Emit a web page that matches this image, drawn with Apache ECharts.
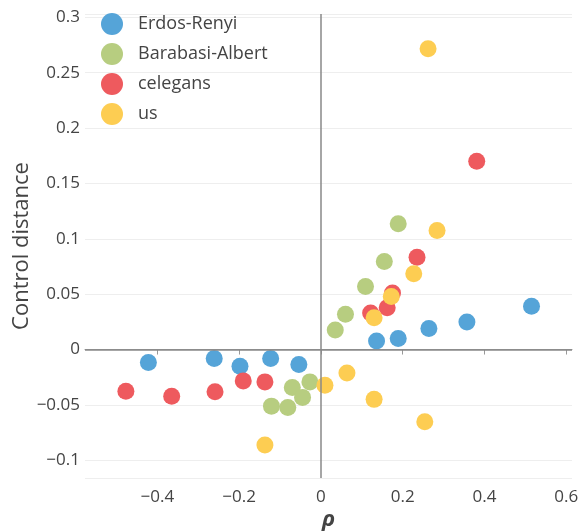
<!DOCTYPE html>
<html>
<head>
<meta charset="utf-8">
<script src="https://cdn.jsdelivr.net/npm/echarts@6/dist/echarts.min.js"></script>
<style>
  html, body { margin: 0; padding: 0; background: #fff; }
  #chart { width: 582px; height: 532px; }
</style>
</head>
<body>
<div id="chart"></div>
<script>
// Correlation rho vs. control distance for four network families
const seriesNames = ['Erdos-Renyi', 'Barabasi-Albert', 'celegans', 'us'];
const seriesColors = ['#55a4d8', '#b7cd80', '#ee5a5e', '#fdcd52'];

const erdosRenyi = [
  [-0.422, -0.0117], [-0.261, -0.0081], [-0.198, -0.0150], [-0.123, -0.0081], [-0.054, -0.0135],
  [0.136, 0.0078], [0.189, 0.0099], [0.264, 0.0189], [0.357, 0.0249], [0.515, 0.0390]
];
const barabasiAlbert = [
  [-0.121, -0.0511], [-0.081, -0.0523], [-0.070, -0.0342], [-0.045, -0.0432], [-0.027, -0.0292],
  [0.035, 0.0177], [0.060, 0.0318], [0.109, 0.0570], [0.155, 0.0795], [0.189, 0.1135]
];
const celegans = [
  [-0.477, -0.0376], [-0.365, -0.0421], [-0.259, -0.0382], [-0.190, -0.0283], [-0.137, -0.0292],
  [0.1215, 0.0330], [0.162, 0.0378], [0.175, 0.0510], [0.235, 0.0834], [0.381, 0.1700]
];
const us = [
  [-0.137, -0.0862], [0.0098, -0.0322], [0.0636, -0.0211], [0.130, -0.0450], [0.254, -0.0652],
  [0.130, 0.0288], [0.172, 0.0480], [0.227, 0.0685], [0.284, 0.1075], [0.262, 0.2717]
];
const seriesData = [erdosRenyi, barabasiAlbert, celegans, us];

const xRange = [-0.577, 0.614];
const yRange = [-0.116, 0.303];

const font = '"Open Sans", "Noto Sans", sans-serif';
const textColor = '#444';

const chart = echarts.init(document.getElementById('chart'), null, { renderer: 'canvas' });

const series = seriesNames.map((name, i) => {
  const s = {
    name: name,
    type: 'scatter',
    data: seriesData[i],
    symbol: 'circle',
    symbolSize: 17,
    itemStyle: { color: seriesColors[i], opacity: 1 },
    emphasis: { disabled: true },
    z: 3
  };
  if (i === 0) {
    // zero reference lines through the origin
    s.markLine = {
      silent: true,
      symbol: ['none', 'none'],
      label: { show: false },
      lineStyle: { color: '#888', width: 1.5, type: 'solid' },
      emphasis: { disabled: true },
      animation: false,
      data: [{ xAxis: 0 }, { yAxis: 0 }]
    };
  }
  return s;
});

chart.setOption({
  animation: false,
  backgroundColor: '#fff',
  textStyle: { fontFamily: font },
  grid: { left: 85, right: 10, top: 14, bottom: 54, containLabel: false, outerBoundsMode: 'none' },
  legend: {
    orient: 'vertical',
    left: 96,
    top: 8,
    itemWidth: 22,
    itemHeight: 22,
    itemGap: 8,
    icon: 'circle',
    data: seriesNames,
    textStyle: { fontFamily: font, fontSize: 18, color: textColor, padding: [0, 0, 0, 10] }
  },
  xAxis: {
    type: 'value',
    min: xRange[0],
    max: xRange[1],
    splitNumber: 6,
    name: 'ρ',
    nameLocation: 'middle',
    nameGap: 31,
    nameMoveOverlap: false,
    nameTextStyle: { fontFamily: font, fontSize: 22, fontStyle: 'italic', fontWeight: 'bold', color: textColor },
    axisLine: { show: true, lineStyle: { color: '#999', width: 1 } },
    axisTick: { show: true, length: 5, lineStyle: { color: '#999' } },
    axisLabel: {
      fontFamily: font, fontSize: 17, color: textColor, margin: 11,
      showMinLabel: false, showMaxLabel: false,
      formatter: v => (v < 0 ? '\u2212' + Math.abs(v) : String(v))
    },
    splitLine: { show: false }
  },
  yAxis: {
    type: 'value',
    min: yRange[0],
    max: yRange[1],
    splitNumber: 8,
    name: 'Control distance',
    nameLocation: 'middle',
    nameGap: 52,
    nameMoveOverlap: false,
    nameTextStyle: { fontFamily: font, fontSize: 22, color: textColor },
    axisLine: { show: false },
    axisTick: { show: false },
    axisLabel: {
      fontFamily: font, fontSize: 17, color: textColor, margin: 5,
      showMinLabel: false, showMaxLabel: false,
      formatter: v => (v < 0 ? '\u2212' + Math.abs(v) : String(v))
    },
    splitLine: { show: true, lineStyle: { color: '#eeeeee', width: 1 } }
  },
  series: series
});
</script>
</body>
</html>
